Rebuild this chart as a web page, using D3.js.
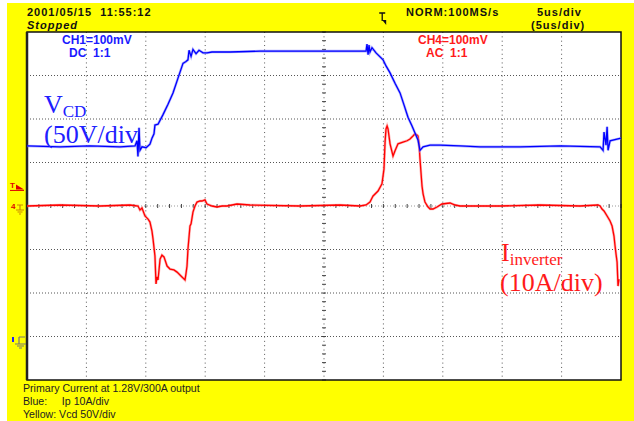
<!DOCTYPE html>
<html lang="en">
<head>
    <meta charset="UTF-8">
    <title>Scope capture</title>
    <style>
        body { margin: 0; background: #fff; }
        svg text { font-family: "Liberation Sans", Arial, sans-serif; white-space: pre; }
        .serif { font-family: "Liberation Serif", "Times New Roman", serif !important; }
    </style>
</head>
<body>
<div id="scope"></div>
<script src="https://d3js.org/d3.v7.min.js"></script>
<script>
    const [width, height] = [634, 421]

    // time axis in microseconds (5us/div, 10 div)
    const timeDomain = [0, 50]
    // CH1 Vcd in volts (50V/div), CH4 inverter current in amps (10A/div)
    const voltDomain = [-46, 354]
    const ampDomain = [-40, 40]

    const vcdTime = [0, 2.78, 5.30, 7.83, 9.09, 9.26, 9.34, 9.43, 9.51, 9.68, 10.02, 10.35, 10.52, 10.69, 10.77, 11.03,
        11.45, 11.87, 12.29, 12.71, 13.13, 13.38, 13.55, 13.64, 13.81, 13.97, 14.23, 14.48, 14.82, 15.15, 15.57, 17.09,
        19.61, 22.98, 26.35, 28.54, 28.62, 28.71, 28.79, 28.87, 29.04, 29.38, 29.97, 30.22, 30.56, 30.98, 31.40, 31.74,
        32.07, 32.41, 32.66, 32.91, 33.08, 33.34, 33.93, 34.77, 36.45, 38.14, 41.50, 44.87, 48.24, 48.49, 48.57, 48.74,
        48.83, 48.91, 49.08, 50]
    const vcdValue = [223, 222, 223, 222, 223, 229, 211, 244, 218, 222, 221, 225, 232, 237, 247, 248,
        259, 271, 284, 301, 318, 320, 322, 333, 326, 334, 329, 333, 330, 330, 331, 331,
        332, 332, 332, 332, 340, 328, 339, 331, 336, 330, 322, 315, 307, 295, 284, 270,
        256, 246, 238, 230, 218, 222, 224, 224, 223, 222, 222, 223, 222, 218, 239, 224,
        245, 218, 229, 232]

    const invTime = [0, 2.78, 6.15, 8.67, 9.34, 9.51, 9.68, 9.93, 10.19, 10.35, 10.52, 10.61, 10.77, 10.86, 10.94, 11.03,
        11.20, 11.36, 11.53, 11.79, 12.04, 12.37, 12.63, 12.96, 13.30, 13.38, 13.47, 13.55, 13.72, 13.81, 13.97, 14.14,
        14.31, 14.56, 14.73, 14.98, 15.15, 15.57, 15.99, 16.42, 16.84, 17.68, 18.77, 22.98, 26.35, 28.03, 28.54, 28.87,
        29.04, 29.13, 29.55, 29.88, 30.05, 30.14, 30.22, 30.31, 30.39, 30.56, 30.73, 30.81, 30.98, 31.23, 31.65, 31.99,
        32.24, 32.49, 32.66, 32.83, 32.91, 33.00, 33.08, 33.25, 33.34, 33.50, 33.76, 33.93, 34.18, 34.51, 34.93, 35.61,
        36.03, 36.45, 39.82, 43.18, 46.55, 48.07, 48.24, 48.40, 48.57, 48.83, 49.08, 49.25, 49.41, 49.50, 49.58, 49.67,
        49.75, 49.83]
    const invValue = [0, 0.23, 0, 0.23, 0, -0.92, -0.46, -2.3, -3.0, -3.7, -5.8, -7.6, -11.5, -17.9, -16.3, -17.0,
        -12.2, -11.3, -11.7, -13.8, -14.5, -14.7, -15.2, -16.1, -17.0, -15.6, -13.8, -9.9, -4.6, -4.1, -1.4, 0,
        0.9, 1.15, 1.15, 1.4, 0.46, 0, -0.23, 0, 0, 0.46, 0.23, 0, 0.23, 0, 0.23, 0.9,
        1.84, 2.3, 3.45, 5.1, 8.5, 14.7, 17.7, 18.4, 17.7, 14.3, 12.4, 11.5, 12.7, 14.3, 14.7, 15.0,
        15.4, 16.1, 16.6, 16.3, 16.1, 14.3, 10.8, 4.6, 2.8, 0.9, -0.23, -0.69, -0.69, -0.23, 0.46, 0.69,
        0.23, 0, 0, 0.23, 0, 0.23, 0, -0.69, -1.15, -2.3, -3.45, -4.6, -6.9, -9.2, -11.0, -12.9,
        -18.4, -16.8]

    const headerLeft = ["2001/05/15  11:55:12", "Stopped"]
    const headerRight = ["NORM:100MS/s", "5us/div", "(5us/div)"]
    const ch1Info = ["CH1=100mV", "DC  1:1"]
    const ch4Info = ["CH4=100mV", "AC  1:1"]
    const footer = ["Primary Current at 1.28V/300A output", "Blue:     Ip 10A/div", "Yellow: Vcd 50V/div"]

    const plot = {left: 27, right: 621, top: 32, bottom: 380}

    const svg = d3.select('#scope').append('svg')
        .attr('width', width)
        .attr('height', height)

    svg.append('rect').attr('x', 7).attr('y', 3).attr('width', width - 7).attr('height', height - 3)
        .attr('fill', '#ffff00')
    svg.append('rect').attr('x', plot.left).attr('y', plot.top)
        .attr('width', plot.right - plot.left).attr('height', plot.bottom - plot.top)
        .attr('fill', '#fff')

    var x = d3.scaleLinear().domain(timeDomain).range([plot.left, plot.right])
    var yV = d3.scaleLinear().domain(voltDomain).range([plot.bottom, plot.top])
    var yI = d3.scaleLinear().domain(ampDomain).range([plot.bottom, plot.top])
    var yDiv = d3.scaleLinear().domain([-4, 4]).range([plot.bottom, plot.top])

    // dotted graticule
    const grid = svg.append('g')
    d3.range(1, 10).forEach(d => {
        grid.append('line')
            .attr('x1', x(d * 5)).attr('x2', x(d * 5))
            .attr('y1', plot.top).attr('y2', plot.bottom)
            .attr('stroke', '#555').attr('stroke-width', 1)
            .attr('stroke-dasharray', '1,3.35')
    })
    d3.range(-3, 4).forEach(d => {
        grid.append('line')
            .attr('x1', plot.left).attr('x2', plot.right)
            .attr('y1', yDiv(d)).attr('y2', yDiv(d))
            .attr('stroke', d === 0 ? '#999' : '#555').attr('stroke-width', 1)
            .attr('stroke-dasharray', '1,2')
    })
    // minor ticks on the centre cross
    d3.range(0, 50.01, 1).forEach(t => {
        grid.append('line')
            .attr('x1', x(t)).attr('x2', x(t))
            .attr('y1', yDiv(0) - 2).attr('y2', yDiv(0) + 2)
            .attr('stroke', '#444')
    })
    d3.range(-4, 4.01, 0.2).forEach(d => {
        grid.append('line')
            .attr('x1', x(25) - 2).attr('x2', x(25) + 2)
            .attr('y1', yDiv(d)).attr('y2', yDiv(d))
            .attr('stroke', '#444')
    })

    svg.append('rect').attr('x', plot.left).attr('y', plot.top)
        .attr('width', plot.right - plot.left).attr('height', plot.bottom - plot.top)
        .attr('fill', 'none').attr('stroke', '#111').attr('stroke-width', 1.5)
    svg.append('line').attr('x1', plot.left).attr('x2', plot.left)
        .attr('y1', plot.top).attr('y2', plot.bottom).attr('stroke', '#222').attr('stroke-width', 2.5)

    const vcd = vcdTime.map((t, i) => [t, vcdValue[i]])
    const inv = invTime.map((t, i) => [t, invValue[i]])

    var lineV = d3.line().x(d => x(d[0])).y(d => yV(d[1]))
    var lineI = d3.line().x(d => x(d[0])).y(d => yI(d[1]))

    svg.append('path').datum(inv).attr('d', lineI)
        .attr('fill', 'none').attr('stroke', '#ff8080').attr('stroke-width', 2.6).attr('stroke-opacity', 0.6)
    svg.append('path').datum(inv).attr('d', lineI)
        .attr('fill', 'none').attr('stroke', '#ff0000').attr('stroke-width', 1.3)
    svg.append('path').datum(vcd).attr('d', lineV)
        .attr('fill', 'none').attr('stroke', '#8080ff').attr('stroke-width', 2.6).attr('stroke-opacity', 0.6)
    svg.append('path').datum(vcd).attr('d', lineV)
        .attr('fill', 'none').attr('stroke', '#0000ff').attr('stroke-width', 1.3)

    // header
    function header(s, x0, y0, italic) {
        svg.append('text').attr('x', x0).attr('y', y0).text(s)
            .attr('font-size', 11).attr('font-weight', 'bold').attr('letter-spacing', 1)
            .attr('font-style', italic ? 'italic' : 'normal').attr('fill', '#111')
    }
    header(headerLeft[0], 27, 16)
    header(headerLeft[1], 27, 29, true)
    header(headerRight[0], 406, 16)
    header(headerRight[1], 537, 16)
    header(headerRight[2], 531, 29)

    // trigger marker on top
    const trig = svg.append('g').attr('transform', `translate(${x(29.9)},19)`)
    trig.append('path').attr('d', 'M-3,-6 H3 M0,-6 V2').attr('stroke', '#111').attr('stroke-width', 1.3)
    trig.append('path').attr('d', 'M0,1 L4,1 L4,6 Z').attr('fill', '#111')

    // channel info
    svg.append('text').attr('x', 62).attr('y', 44).text(ch1Info[0])
        .attr('font-size', 12).attr('font-weight', 'bold').attr('fill', '#1a1aff')
    svg.append('text').attr('x', 69).attr('y', 57).text(ch1Info[1])
        .attr('font-size', 12).attr('font-weight', 'bold').attr('fill', '#1a1aff')
    svg.append('text').attr('x', 418).attr('y', 44).text(ch4Info[0])
        .attr('font-size', 12).attr('font-weight', 'bold').attr('fill', '#ff1a1a')
    svg.append('text').attr('x', 426).attr('y', 57).text(ch4Info[1])
        .attr('font-size', 12).attr('font-weight', 'bold').attr('fill', '#ff1a1a')

    // left side markers
    const tMark = svg.append('g').attr('transform', `translate(10,${yDiv(0.45)})`)
    tMark.append('text').attr('x', 0).attr('y', 2).text('T').attr('font-size', 8).attr('font-weight', 'bold')
        .attr('fill', '#e00000')
    tMark.append('path').attr('d', 'M6,-2 L14,3 L6,3 Z').attr('fill', '#e00000')
    tMark.append('line').attr('x1', 0).attr('x2', 14).attr('y1', 4).attr('y2', 4).attr('stroke', '#e00000')

    const g4 = svg.append('g').attr('transform', `translate(11,${yI(0)})`)
    g4.append('text').attr('x', 0).attr('y', 3).text('4').attr('font-size', 8).attr('font-weight', 'bold')
        .attr('fill', '#e00000')
    g4.append('path').attr('d', 'M6,-1 H12 M9,-1 V4 M5,4 H13 M6.5,6 H11.5 M8,8 H10')
        .attr('stroke', '#cc8800').attr('stroke-width', 1.2)

    const g1 = svg.append('g').attr('transform', `translate(11,${yV(0)})`)
    g1.append('path').attr('d', 'M2,-3 V2').attr('stroke', '#2222ff').attr('stroke-width', 2)
    g1.append('path').attr('d', 'M8,-3 H14 M8,-3 V4 M4,4 H15 M6,6 H13 M8,8 H11')
        .attr('stroke', '#777').attr('stroke-width', 1.2)

    // big annotations
    const vLabel = svg.append('text').attr('class', 'serif').attr('x', 44).attr('y', 113)
        .attr('font-size', 26).attr('fill', '#2020ff')
    vLabel.append('tspan').text('V')
    vLabel.append('tspan').attr('font-size', 17).attr('dy', 4).text('CD')
    svg.append('text').attr('class', 'serif').attr('x', 44).attr('y', 143)
        .attr('font-size', 26).attr('fill', '#2020ff').text('(50V/div')

    const iLabel = svg.append('text').attr('class', 'serif').attr('x', 501).attr('y', 261)
        .attr('font-size', 26).attr('fill', '#ff1a1a')
    iLabel.append('tspan').text('I')
    iLabel.append('tspan').attr('font-size', 17).attr('dy', 4).text('inverter')
    svg.append('text').attr('class', 'serif').attr('x', 500).attr('y', 291)
        .attr('font-size', 26).attr('fill', '#ff1a1a').text('(10A/div)')

    // footer
    footer.forEach((s, i) => {
        svg.append('text').attr('x', 23).attr('y', 392 + i * 13).text(s)
            .attr('font-size', 10.6).attr('fill', '#222')
    })
</script>
</body>
</html>
